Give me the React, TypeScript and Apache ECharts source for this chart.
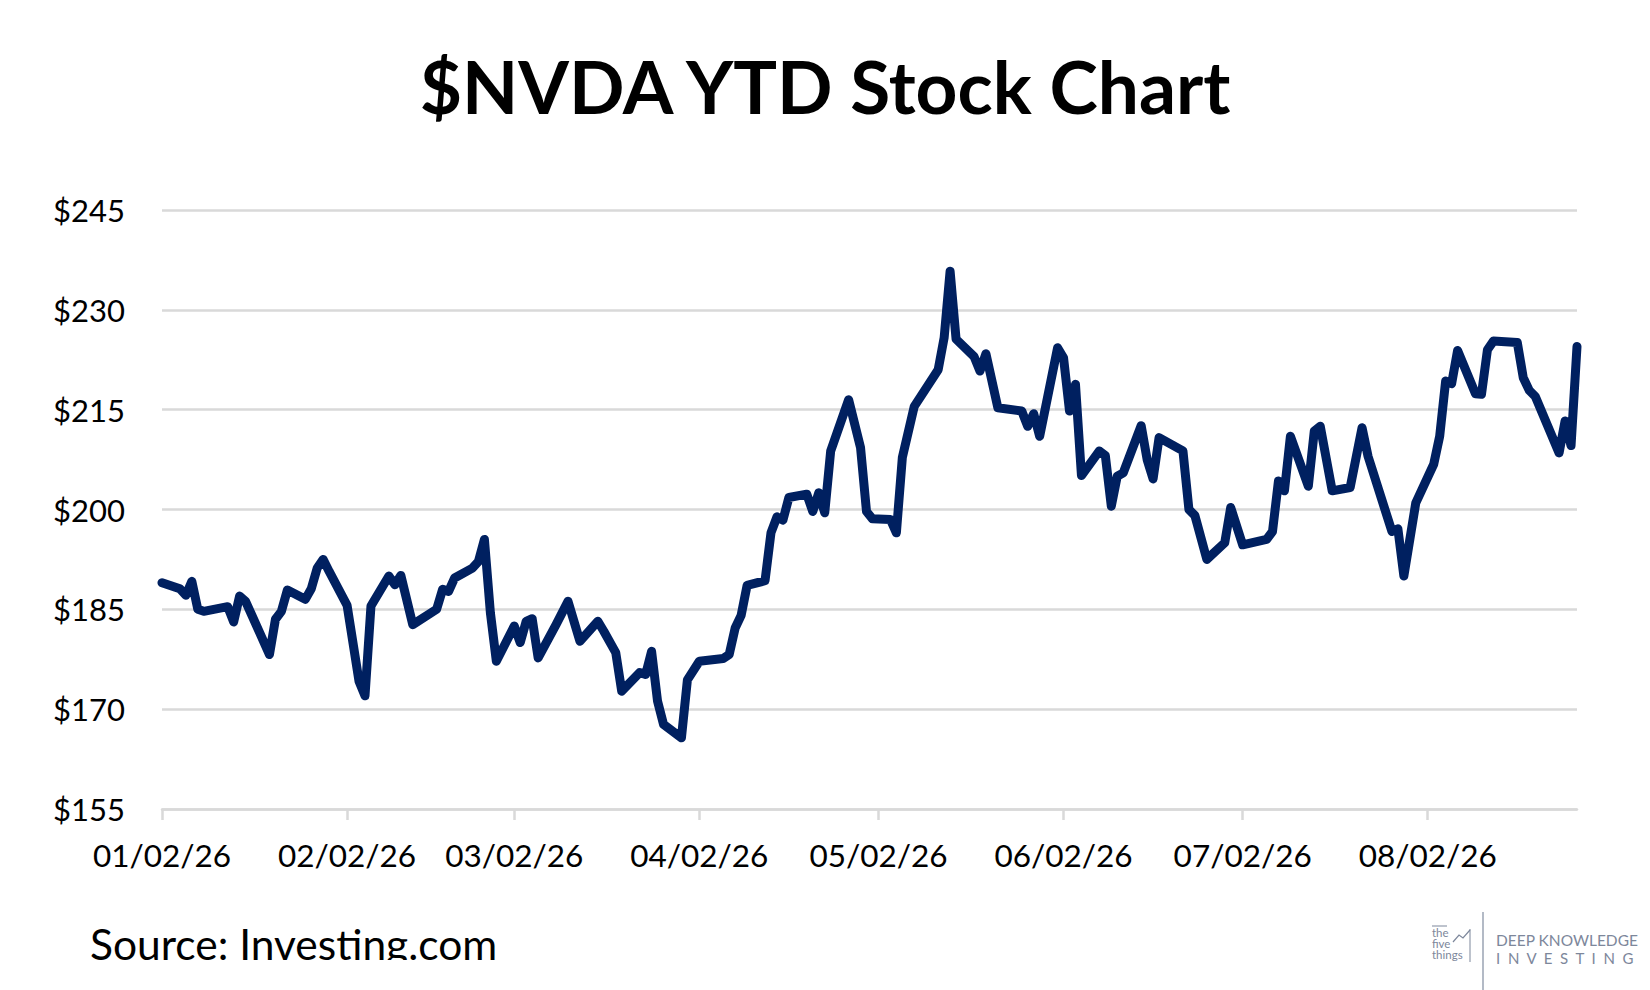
import { useEffect, useRef } from "react";
import * as echarts from "echarts";

const tradeDates = [
  "2026-01-02", "2026-01-05", "2026-01-06", "2026-01-07", "2026-01-08", "2026-01-09", "2026-01-13", "2026-01-14",
  "2026-01-15", "2026-01-16", "2026-01-20", "2026-01-21", "2026-01-22", "2026-01-23", "2026-01-26", "2026-01-27",
  "2026-01-28", "2026-01-29", "2026-01-30", "2026-02-02", "2026-02-04", "2026-02-05", "2026-02-06", "2026-02-09",
  "2026-02-10", "2026-02-11", "2026-02-13", "2026-02-17", "2026-02-18", "2026-02-19", "2026-02-20", "2026-02-23",
  "2026-02-24", "2026-02-25", "2026-02-26", "2026-02-27", "2026-03-02", "2026-03-03", "2026-03-04", "2026-03-05",
  "2026-03-06", "2026-03-09", "2026-03-11", "2026-03-13", "2026-03-16", "2026-03-17", "2026-03-19", "2026-03-20",
  "2026-03-23", "2026-03-24", "2026-03-25", "2026-03-26", "2026-03-27", "2026-03-30", "2026-03-31", "2026-04-02",
  "2026-04-06", "2026-04-07", "2026-04-08", "2026-04-09", "2026-04-10", "2026-04-13", "2026-04-14", "2026-04-15",
  "2026-04-16", "2026-04-17", "2026-04-20", "2026-04-21", "2026-04-22", "2026-04-23", "2026-04-24", "2026-04-27",
  "2026-04-29", "2026-04-30", "2026-05-01", "2026-05-04", "2026-05-05", "2026-05-06", "2026-05-08", "2026-05-12",
  "2026-05-13", "2026-05-14", "2026-05-15", "2026-05-18", "2026-05-19", "2026-05-20", "2026-05-22", "2026-05-26",
  "2026-05-27", "2026-05-28", "2026-05-29", "2026-06-01", "2026-06-02", "2026-06-03", "2026-06-04", "2026-06-05",
  "2026-06-08", "2026-06-09", "2026-06-10", "2026-06-11", "2026-06-12", "2026-06-15", "2026-06-16", "2026-06-17",
  "2026-06-18", "2026-06-22", "2026-06-23", "2026-06-24", "2026-06-26", "2026-06-29", "2026-06-30", "2026-07-02",
  "2026-07-06", "2026-07-07", "2026-07-08", "2026-07-09", "2026-07-10", "2026-07-13", "2026-07-14", "2026-07-15",
  "2026-07-17", "2026-07-20", "2026-07-22", "2026-07-23", "2026-07-27", "2026-07-28", "2026-07-29", "2026-07-31",
  "2026-08-03", "2026-08-04", "2026-08-05", "2026-08-06", "2026-08-07", "2026-08-10", "2026-08-11", "2026-08-12",
  "2026-08-13", "2026-08-17", "2026-08-18", "2026-08-19", "2026-08-20", "2026-08-24", "2026-08-25", "2026-08-26",
  "2026-08-27",
];

const closePrices = [
  189.0, 188.1, 187.1, 189.2, 185.0, 184.7, 185.4, 183.1,
  187.0, 186.2, 178.2, 183.5, 184.7, 187.9, 186.5, 188.1,
  191.2, 192.5, 190.7, 185.6, 174.2, 172.0, 185.5, 190.0,
  188.7, 190.1, 182.7, 185.0, 188.0, 187.7, 189.7, 191.2,
  192.2, 195.5, 184.5, 177.2, 182.5, 180.0, 183.2, 183.6,
  177.7, 182.7, 186.2, 180.2, 183.2, 181.7, 178.5, 172.7,
  175.5, 175.2, 178.7, 171.2, 167.7, 165.7, 174.4, 177.2,
  177.6, 178.2, 182.2, 184.1, 188.6, 189.3, 196.5, 198.9,
  198.4, 201.8, 202.3, 199.7, 202.5, 199.5, 208.8, 216.5,
  209.3, 199.7, 198.6, 198.5, 196.5, 207.8, 215.5, 221.0,
  225.8, 235.8, 225.6, 223.0, 220.8, 223.4, 215.3, 214.8,
  212.5, 214.4, 211.0, 224.3, 222.8, 214.8, 218.8, 205.1,
  208.8, 208.1, 200.5, 205.0, 205.5, 212.6, 207.5, 204.6,
  210.8, 208.8, 200.0, 199.1, 192.5, 195.0, 200.3, 194.7,
  195.5, 196.7, 204.3, 202.8, 211.0, 203.5, 211.8, 212.5,
  202.8, 203.3, 212.3, 208.0, 196.7, 197.1, 190.0, 201.0,
  206.8, 211.0, 219.3, 218.9, 223.9, 217.4, 217.3, 224.0,
  225.3, 225.1, 219.8, 217.9, 217.0, 208.5, 213.3, 209.6,
  224.5,
];

const tickDates = ["2026-01-02", "2026-02-02", "2026-03-02", "2026-04-02", "2026-05-02", "2026-06-02", "2026-07-02", "2026-08-02"];
const axisStart = "2026-01-02";
const axisEnd = "2026-08-27";

const priceMin = 155;
const priceMax = 245;
const priceStep = 15;

const FONT = "Lato, 'Open Sans', sans-serif";
const GRID_GREY = "#d9d9d9";
const NAVY = "#002060";
const LOGO = "#7d879b";

// dates as day-based timestamps so the value axis spaces them like a date axis
function toTime(d: string) {
  const [y, m, day] = d.split("-").map(Number);
  return Date.UTC(y, m - 1, day);
}

function fmtDate(v: number) {
  const d = new Date(v);
  const p = (n: number) => String(n).padStart(2, "0");
  return `${p(d.getUTCMonth() + 1)}/${p(d.getUTCDate())}/${p(d.getUTCFullYear() % 100)}`;
}

export default function App() {
  const ref = useRef<HTMLDivElement | null>(null);

  useEffect(() => {
    if (!ref.current) return;
    const chart = echarts.init(ref.current, undefined, { renderer: "svg" });
    const ticks = tickDates.map(toTime);
    chart.setOption({
      animation: false,
      backgroundColor: "#ffffff",
      title: {
        text: "$NVDA YTD Stock Chart",
        left: "center",
        top: 44,
        textStyle: { fontFamily: FONT, fontWeight: "bold", fontSize: 73, color: "#000000" },
      },
      grid: { left: 162, right: 73, top: 210, bottom: 181, outerBoundsMode: "none" },
      xAxis: {
        type: "value",
        min: toTime(axisStart),
        max: toTime(axisEnd),
        axisLine: { show: true, onZero: false, lineStyle: { color: GRID_GREY, width: 2.5 } },
        axisTick: { show: true, length: 11, customValues: ticks, lineStyle: { color: GRID_GREY, width: 2.5 } },
        axisLabel: {
          customValues: ticks,
          formatter: (v: number) => fmtDate(v),
          margin: 30,
          fontFamily: FONT,
          fontSize: 31.5,
          color: "#000000",
          hideOverlap: false,
        },
        splitLine: { show: false },
      },
      yAxis: {
        type: "value",
        min: priceMin,
        max: priceMax,
        interval: priceStep,
        axisLine: { show: false },
        axisTick: { show: false },
        axisLabel: { formatter: (v: number) => `$${v}`, margin: 37, fontFamily: FONT, fontSize: 31, color: "#000000" },
        splitLine: { lineStyle: { color: GRID_GREY, width: 2.5 } },
      },
      series: [
        {
          type: "line",
          data: tradeDates.map((d, i) => [toTime(d), closePrices[i]]),
          symbol: "none",
          clip: false,
          lineStyle: { color: NAVY, width: 9, cap: "round", join: "round" },
        },
      ],
      graphic: [
        {
          type: "text",
          left: 90,
          top: 922,
          style: { text: "Source: Investing.com", fontFamily: FONT, fontSize: 42.5, fill: "#000000" },
        },
        // the source line is cut off at the bottom in the original image
        { type: "rect", shape: { x: 0, y: 960, width: 1000, height: 30 }, style: { fill: "#ffffff" }, z: 100 },
        {
          type: "group",
          children: [
            { type: "text", x: 1432, y: 927, style: { text: "the\nfive\nthings", fontFamily: FONT, fontSize: 11.5, lineHeight: 11, fill: LOGO } },
            { type: "line", shape: { x1: 1432, y1: 926, x2: 1447, y2: 926 }, style: { stroke: LOGO, lineWidth: 1 } },
            { type: "polyline", shape: { points: [[1453, 942], [1459, 935], [1463, 938], [1470, 930]] }, style: { stroke: LOGO, lineWidth: 1.2, fill: null } },
            { type: "line", shape: { x1: 1470, y1: 929, x2: 1470, y2: 962 }, style: { stroke: LOGO, lineWidth: 1 } },
            { type: "line", shape: { x1: 1483, y1: 912, x2: 1483, y2: 990 }, style: { stroke: "#9aa3b3", lineWidth: 1.5 } },
            { type: "text", x: 1496, y: 932, style: { text: "DEEP KNOWLEDGE", fontFamily: FONT, fontSize: 15.5, fill: LOGO } },
            { type: "text", x: 1496, y: 950, style: { text: "I  N  V  E  S  T  I  N  G", fontFamily: FONT, fontSize: 15, fill: LOGO } },
          ],
        },
      ],
    });
    return () => chart.dispose();
  }, []);

  return <div ref={ref} style={{ position: "absolute", left: 0, top: 0, width: 1650, height: 990 }} />;
}
